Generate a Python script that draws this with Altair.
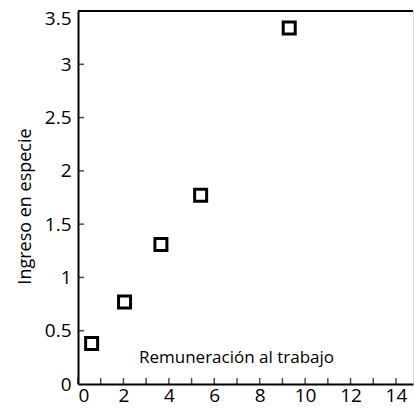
import altair as alt
import pandas as pd

# Observed pairs: labour remuneration vs. income in kind
remuneracion = [0.6, 2.05, 3.65, 5.4, 9.3]
ingreso = [0.38, 0.77, 1.31, 1.77, 3.34]

# Axis tick positions and labelled values
x_ticks = list(range(0, 15))
y_ticks = [0.5, 1.0, 1.5, 2.0, 2.5, 3.0]
x_labels = [0, 2, 4, 6, 8, 10, 12, 14]
y_labels = [0, 0.5, 1, 1.5, 2, 2.5, 3, 3.5]

W, H = 335, 373
FONT = "Open Sans"

pts = pd.DataFrame({"x": remuneracion, "y": ingreso})
xs = alt.Scale(domain=[0, 14.75], nice=False, zero=False)
ys = alt.Scale(domain=[0, 3.5], nice=False)

x_axis = alt.Axis(
    values=x_labels, title="Remuneración al trabajo", titleX=158, titleY=-22,
    titleBaseline="alphabetic", titleFontWeight="normal", titleFontSize=17,
    titleFont=FONT, titleColor="black", labelFont=FONT, labelFontSize=19,
    labelColor="black", labelPadding=2, ticks=False, tickSize=0, grid=False,
    domainColor="black", domainWidth=2,
)
y_axis = alt.Axis(
    values=y_labels, labelExpr="datum.value + ''", title="Ingreso en especie",
    titleFontWeight="normal", titleFontSize=18, titleFont=FONT, titleColor="black",
    titlePadding=10, titleY=195, labelFont=FONT, labelFontSize=19, labelColor="black",
    labelPadding=7, ticks=False, tickSize=0, grid=False,
    labelOffset={"condition": {"test": "datum.value == 3.5", "value": 7}, "value": 0},
    domainColor="black", domainWidth=2,
)

points = alt.Chart(pts).mark_point(
    shape="square", filled=False, size=144, strokeWidth=3, color="black", opacity=1
).encode(
    x=alt.X("x:Q", scale=xs, axis=x_axis),
    y=alt.Y("y:Q", scale=ys, axis=y_axis),
)

# Inward-pointing tick marks
xt = alt.Chart(pd.DataFrame({"t": x_ticks})).mark_tick(
    orient="vertical", size=6, thickness=1.5, color="black", yOffset=-3
).encode(x=alt.X("t:Q", scale=xs), y=alt.datum(0, scale=ys))

yt = alt.Chart(pd.DataFrame({"t": y_ticks})).mark_tick(
    orient="horizontal", size=6, thickness=1.5, color="black", xOffset=3
).encode(y=alt.Y("t:Q", scale=ys), x=alt.datum(0, scale=xs))

top = alt.Chart(pd.DataFrame({"v": [3.5]})).mark_rule(
    color="black", strokeWidth=2
).encode(y=alt.Y("v:Q", scale=ys), x=alt.value(0), x2=alt.value(W))

chart = alt.layer(top, xt, yt, points).properties(
    width=W, height=H,
    autosize=alt.AutoSizeParams(type="none"),
    padding={"left": 78, "top": 11, "right": 1, "bottom": 24},
).configure_view(stroke=None).configure(background="white")

chart.save("out.html", embed_options={"renderer": "svg", "actions": False})
